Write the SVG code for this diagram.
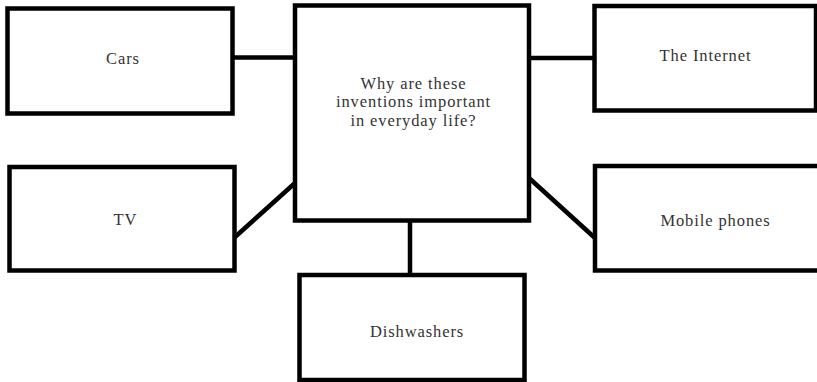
<svg xmlns="http://www.w3.org/2000/svg" width="817" height="382" viewBox="0 0 817 382">
  <style>
    .box { fill: #ffffff; stroke: #000000; stroke-width: 4.5; }
    .conn { stroke: #000000; stroke-width: 4.5; fill: none; }
    .lbl { font-family: "Liberation Serif", "Times New Roman", serif; font-size: 16.5px; letter-spacing: 0.9px; fill: #333333; text-anchor: middle; }
  </style>
  <rect width="817" height="382" fill="#ffffff"/>
  <g id="connectors">
    <line class="conn" x1="232" y1="57.5" x2="296" y2="57.5"/>
    <line class="conn" x1="528" y1="58" x2="595" y2="58"/>
    <line class="conn" x1="235" y1="237" x2="295" y2="183"/>
    <line class="conn" x1="529" y1="178" x2="595" y2="238"/>
    <line class="conn" x1="410" y1="220" x2="410" y2="276"/>
  </g>
  <g id="center">
    <rect class="box" x="295" y="5.5" width="234" height="215"/>
    <text class="lbl" x="413.5" y="89">Why are these</text>
    <text class="lbl" x="413.5" y="107.3">inventions important</text>
    <text class="lbl" x="413.5" y="125.6">in everyday life?</text>
  </g>
  <g id="cars">
    <rect class="box" x="7.5" y="8.5" width="225" height="105"/>
    <text class="lbl" x="123" y="64">Cars</text>
  </g>
  <g id="internet">
    <rect class="box" x="594.5" y="6" width="221.5" height="104.5"/>
    <text class="lbl" x="705.5" y="61">The Internet</text>
  </g>
  <g id="tv">
    <rect class="box" x="9.5" y="167" width="225" height="103.5"/>
    <text class="lbl" x="125.5" y="225">TV</text>
  </g>
  <g id="mobile">
    <rect class="box" x="595" y="166" width="225" height="104.5"/>
    <text class="lbl" x="715.5" y="226">Mobile phones</text>
  </g>
  <g id="dishwashers">
    <rect class="box" x="299.5" y="275" width="225" height="105"/>
    <text class="lbl" x="417" y="337">Dishwashers</text>
  </g>
</svg>
